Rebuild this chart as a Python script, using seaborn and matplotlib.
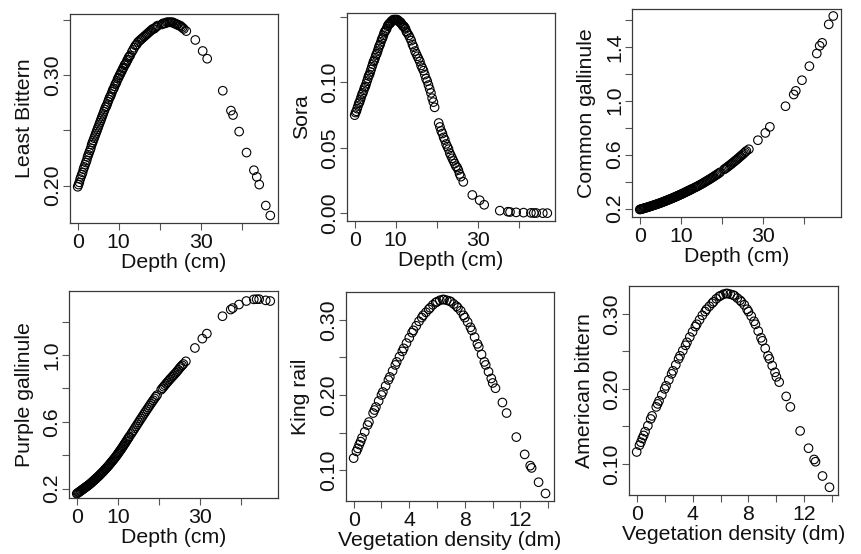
import matplotlib
matplotlib.use("Agg")
import matplotlib.pyplot as plt
import seaborn as sns

# depth values (cm) shared by the four depth panels
depth = [0.0, 0.2, 0.4, 0.6, 0.8, 1.0, 1.2, 1.4, 1.6, 1.8,
         2.0, 2.2, 2.4, 2.6, 2.8, 3.0, 3.2, 3.4, 3.6, 3.8,
         4.0, 4.2, 4.4, 4.6, 4.8, 5.0, 5.2, 5.4, 5.6, 5.8,
         6.0, 6.2, 6.4, 6.6, 6.8, 7.0, 7.2, 7.4, 7.6, 7.8,
         8.0, 8.2, 8.4, 8.6, 8.8, 9.0, 9.2, 9.4, 9.6, 9.8,
         10.0, 10.2, 10.4, 10.6, 10.8, 11.0, 11.2, 11.4, 11.6, 11.8,
         12.0, 12.2, 12.4, 12.6, 12.8,
         13.2, 13.5, 13.8, 14.1, 14.4, 14.7, 15.0,
         15.3, 15.6, 15.9, 16.2, 16.5, 16.8, 17.1, 17.4, 17.7, 18.0,
         18.3, 18.6, 18.9, 19.2, 19.5, 20.5, 20.8, 21.1, 21.4, 21.7,
         22.0, 22.3, 22.6, 22.9, 23.2, 23.5, 23.8, 24.1, 24.4, 24.7,
         25.0, 25.3, 25.6, 25.9,
         26.5, 28.7, 30.5, 31.6, 35.4, 37.4, 37.9, 39.4, 41.2, 43.0,
         43.7, 44.3, 45.9, 47.0]

least_bittern = [0.199, 0.201, 0.203, 0.206, 0.208, 0.210, 0.212, 0.215, 0.217, 0.219,
                 0.221, 0.223, 0.226, 0.228, 0.230, 0.232, 0.234, 0.237, 0.239, 0.241,
                 0.243, 0.245, 0.247, 0.249, 0.251, 0.253, 0.255, 0.257, 0.259, 0.261,
                 0.263, 0.265, 0.267, 0.269, 0.271, 0.272, 0.274, 0.276, 0.278, 0.280,
                 0.281, 0.283, 0.285, 0.287, 0.288, 0.290, 0.292, 0.293, 0.295, 0.297,
                 0.298, 0.300, 0.301, 0.303, 0.304, 0.306, 0.307, 0.309, 0.310, 0.311,
                 0.313, 0.314, 0.316, 0.317, 0.318,
                 0.321, 0.323, 0.325, 0.327, 0.328, 0.330, 0.331,
                 0.332, 0.333, 0.334, 0.335, 0.336, 0.337, 0.338, 0.339, 0.340, 0.341,
                 0.342, 0.342, 0.343, 0.344, 0.345, 0.346, 0.347, 0.347, 0.347, 0.348,
                 0.348, 0.348, 0.348, 0.348, 0.348, 0.347, 0.347, 0.346, 0.346, 0.345,
                 0.345, 0.344, 0.343, 0.342,
                 0.340, 0.332, 0.322, 0.315, 0.286, 0.268, 0.264, 0.249, 0.230, 0.214,
                 0.208, 0.201, 0.182, 0.173]

sora = [0.075, 0.077, 0.078, 0.080, 0.082, 0.084, 0.085, 0.087, 0.089, 0.091,
        0.092, 0.094, 0.096, 0.097, 0.099, 0.101, 0.103, 0.105, 0.106, 0.108,
        0.110, 0.112, 0.114, 0.116, 0.117, 0.119, 0.121, 0.122, 0.124, 0.126,
        0.128, 0.129, 0.131, 0.133, 0.134, 0.136, 0.138, 0.139, 0.140, 0.141,
        0.143, 0.144, 0.145, 0.145, 0.146, 0.147, 0.147, 0.148, 0.148, 0.148,
        0.148, 0.148, 0.148, 0.147, 0.147, 0.146, 0.146, 0.145, 0.144, 0.143,
        0.143, 0.142, 0.141, 0.139, 0.138,
        0.136, 0.134, 0.132, 0.129, 0.127, 0.124, 0.122,
        0.120, 0.118, 0.116, 0.113, 0.111, 0.109, 0.106, 0.103, 0.101, 0.098,
        0.095, 0.092, 0.088, 0.085, 0.081, 0.069, 0.066, 0.063, 0.061, 0.058,
        0.056, 0.053, 0.051, 0.049, 0.046, 0.044, 0.042, 0.040, 0.038, 0.036,
        0.035, 0.033, 0.030, 0.028,
        0.024, 0.014, 0.010, 0.0065, 0.002, 0.0012, 0.001, 0.0007, 0.0005, 0.0003,
        0.0002, 0.0002, 0.0001, 0.0001]

common_gallinule = [0.193, 0.195, 0.196, 0.198, 0.200, 0.202, 0.204, 0.206, 0.207, 0.209,
                    0.211, 0.213, 0.215, 0.217, 0.219, 0.221, 0.223, 0.225, 0.227, 0.229,
                    0.231, 0.233, 0.235, 0.237, 0.240, 0.242, 0.244, 0.246, 0.249, 0.251,
                    0.254, 0.256, 0.258, 0.261, 0.263, 0.266, 0.268, 0.271, 0.273, 0.276,
                    0.278, 0.281, 0.284, 0.286, 0.289, 0.292, 0.294, 0.297, 0.300, 0.303,
                    0.305, 0.308, 0.311, 0.314, 0.317, 0.320, 0.323, 0.326, 0.329, 0.332,
                    0.335, 0.338, 0.341, 0.344, 0.347,
                    0.353, 0.358, 0.362, 0.367, 0.372, 0.377, 0.382,
                    0.387, 0.393, 0.398, 0.404, 0.409, 0.415, 0.420, 0.426, 0.432, 0.438,
                    0.444, 0.450, 0.456, 0.462, 0.469, 0.491, 0.497, 0.504, 0.511, 0.518,
                    0.525, 0.532, 0.540, 0.547, 0.555, 0.562, 0.570, 0.578, 0.586, 0.594,
                    0.602, 0.610, 0.619, 0.627,
                    0.640, 0.707, 0.761, 0.806, 0.959, 1.046, 1.073, 1.152, 1.256, 1.350,
                    1.407, 1.429, 1.566, 1.628]

purple_gallinule = [0.170, 0.173, 0.177, 0.180, 0.184, 0.187, 0.191, 0.195, 0.198, 0.202,
                    0.206, 0.209, 0.213, 0.216, 0.220, 0.224, 0.228, 0.232, 0.236, 0.241,
                    0.245, 0.250, 0.254, 0.259, 0.263, 0.268, 0.272, 0.277, 0.282, 0.287,
                    0.292, 0.297, 0.302, 0.307, 0.313, 0.318, 0.323, 0.329, 0.334, 0.340,
                    0.346, 0.352, 0.358, 0.364, 0.370, 0.376, 0.382, 0.389, 0.395, 0.402,
                    0.409, 0.416, 0.423, 0.430, 0.437, 0.444, 0.452, 0.459, 0.467, 0.474,
                    0.482, 0.490, 0.497, 0.505, 0.513,
                    0.527, 0.539, 0.550, 0.562, 0.573, 0.585, 0.596,
                    0.608, 0.619, 0.630, 0.642, 0.653, 0.664, 0.675, 0.686, 0.697, 0.708,
                    0.719, 0.729, 0.740, 0.750, 0.760, 0.792, 0.801, 0.810, 0.819, 0.828,
                    0.837, 0.845, 0.854, 0.862, 0.870, 0.878, 0.886, 0.894, 0.903, 0.912,
                    0.922, 0.930, 0.938, 0.946,
                    0.962, 1.042, 1.098, 1.128, 1.232, 1.272, 1.281, 1.302, 1.323, 1.333,
                    1.334, 1.334, 1.327, 1.323]

# vegetation density values (dm) shared by the two lower right panels
veg = [0.0, 0.2, 0.3, 0.4, 0.5, 0.6, 0.8, 1.0, 1.1, 1.4,
       1.5, 1.6, 1.8, 2.0, 2.1, 2.3, 2.5, 2.6, 2.8, 3.0,
       3.1, 3.3, 3.5, 3.6, 3.8, 4.0, 4.2, 4.3, 4.5, 4.7,
       4.9, 5.0, 5.2, 5.4, 5.5, 5.7, 5.9, 6.0, 6.2, 6.4,
       6.5, 6.7, 6.9, 7.0, 7.2, 7.4, 7.5, 7.7, 7.9, 8.0,
       8.2, 8.4, 8.5, 8.7, 8.9, 9.0, 9.2, 9.4, 9.5, 9.7,
       9.9, 10.0, 10.2, 10.7, 11.0, 11.7, 12.3, 12.7, 12.8, 13.3,
       13.8]

king_rail = [0.116, 0.125, 0.129, 0.134, 0.138, 0.143, 0.151, 0.160, 0.164, 0.176,
             0.180, 0.184, 0.192, 0.200, 0.204, 0.212, 0.220, 0.224, 0.232, 0.240,
             0.244, 0.251, 0.258, 0.262, 0.269, 0.276, 0.283, 0.286, 0.292, 0.298,
             0.303, 0.306, 0.310, 0.314, 0.316, 0.320, 0.323, 0.324, 0.326, 0.327,
             0.327, 0.326, 0.325, 0.324, 0.321, 0.318, 0.316, 0.312, 0.306, 0.303,
             0.297, 0.290, 0.286, 0.277, 0.268, 0.264, 0.254, 0.244, 0.240, 0.231,
             0.222, 0.216, 0.209, 0.190, 0.176, 0.144, 0.121, 0.106, 0.103, 0.084,
             0.069]

american_bittern = [0.116, 0.125, 0.129, 0.134, 0.138, 0.143, 0.151, 0.160, 0.164, 0.176,
                    0.180, 0.184, 0.192, 0.200, 0.204, 0.212, 0.220, 0.224, 0.232, 0.240,
                    0.244, 0.251, 0.258, 0.262, 0.269, 0.276, 0.283, 0.286, 0.292, 0.298,
                    0.303, 0.306, 0.310, 0.314, 0.316, 0.320, 0.323, 0.324, 0.326, 0.327,
                    0.327, 0.326, 0.325, 0.324, 0.321, 0.318, 0.316, 0.312, 0.306, 0.303,
                    0.297, 0.290, 0.286, 0.277, 0.268, 0.264, 0.254, 0.244, 0.240, 0.231,
                    0.222, 0.216, 0.209, 0.190, 0.176, 0.144, 0.121, 0.106, 0.103, 0.084,
                    0.069]

depth_ticks = [0, 10, 20, 30, 40]
depth_labels = ["0", "10", "", "30", ""]
veg_ticks = [0, 2, 4, 6, 8, 10, 12, 14]
veg_labels = ["0", "", "4", "", "8", "", "12", ""]

sns.set_theme(style="ticks")
plt.rcParams["font.family"] = ["Liberation Sans", "DejaVu Sans"]

W, H = 861, 554
fig = plt.figure(figsize=(W / 100, H / 100), dpi=100)

FS = 15.3
TXT = "#111111"
EDGE = "#3a3a3a"

# (x, y, ylabel, xlabel, box in px [left, top, right, bottom], xlim, ylim, xticks, xticklabels, yticks, yticklabels)
panels = [
    (depth, least_bittern, "Least Bittern", "Depth (cm)", [70, 14, 278, 223],
     (-1.88, 48.88), (0.1662, 0.3555), depth_ticks, depth_labels,
     [0.20, 0.25, 0.30, 0.35], ["0.20", "", "0.30", ""]),
    (depth, sora, "Sora", "Depth (cm)", [347, 13, 555, 221],
     (-1.88, 48.88), (-0.0059, 0.1531), depth_ticks, depth_labels,
     [0.00, 0.05, 0.10, 0.15], ["0.00", "0.05", "0.10", ""]),
    (depth, common_gallinule, "Common gallinule", "Depth (cm)", [632, 9, 841, 217],
     (-1.88, 48.88), (0.1376, 1.68), depth_ticks, depth_labels,
     [0.2, 0.4, 0.6, 0.8, 1.0, 1.2, 1.4, 1.6], ["0.2", "", "0.6", "", "1.0", "", "1.4", ""]),
    (depth, purple_gallinule, "Purple gallinule", "Depth (cm)", [69, 291, 278, 498],
     (-1.88, 48.88), (0.144, 1.383), depth_ticks, depth_labels,
     [0.2, 0.4, 0.6, 0.8, 1.0, 1.2], ["0.2", "", "0.6", "", "1.0", ""]),
    (veg, king_rail, "King rail", "Vegetation density (dm)", [346, 292, 554, 501],
     (-0.55, 14.41), (0.059, 0.337), veg_ticks, veg_labels,
     [0.10, 0.15, 0.20, 0.25, 0.30], ["0.10", "", "0.20", "", "0.30"]),
    (veg, american_bittern, "American bittern", "Vegetation density (dm)", [629, 286, 838, 495],
     (-0.55, 14.41), (0.0587, 0.337), veg_ticks, veg_labels,
     [0.10, 0.15, 0.20, 0.25, 0.30], ["0.10", "", "0.20", "", "0.30"]),
]

for x, y, ylab, xlab, box, xlim, ylim, xt, xtl, yt, ytl in panels:
    l, t, r, b = box
    ax = fig.add_axes([l / W, 1 - b / H, (r - l) / W, (b - t) / H])
    sns.scatterplot(x=x, y=y, ax=ax, marker="o", s=38, facecolor="none",
                    edgecolor="black", linewidth=0.8)
    ax.set_xlim(xlim)
    ax.set_ylim(ylim)
    ax.set_xticks(xt, xtl)
    ax.set_yticks(yt, ytl)
    ax.tick_params(axis="both", which="major", bottom=True, left=True,
                   length=5.2, width=0.8, color="#555555",
                   labelsize=FS, labelcolor=TXT, direction="out")
    ax.tick_params(axis="x", pad=2.2)
    ax.tick_params(axis="y", pad=0.5)
    for lab in ax.get_yticklabels():
        lab.set_rotation(90)
        lab.set_va("center")
    for sp in ax.spines.values():
        sp.set_visible(True)
        sp.set_color(EDGE)
        sp.set_linewidth(0.9)
    ax.set_xlabel(xlab, fontsize=FS, color=TXT)
    ax.set_ylabel(ylab, fontsize=FS, color=TXT)
    h = b - t
    ax.xaxis.set_label_coords(0.5, -30 / h)
    ax.yaxis.set_label_coords(-35.5 / (r - l), 0.5)

fig.savefig("out.png", dpi=100)
